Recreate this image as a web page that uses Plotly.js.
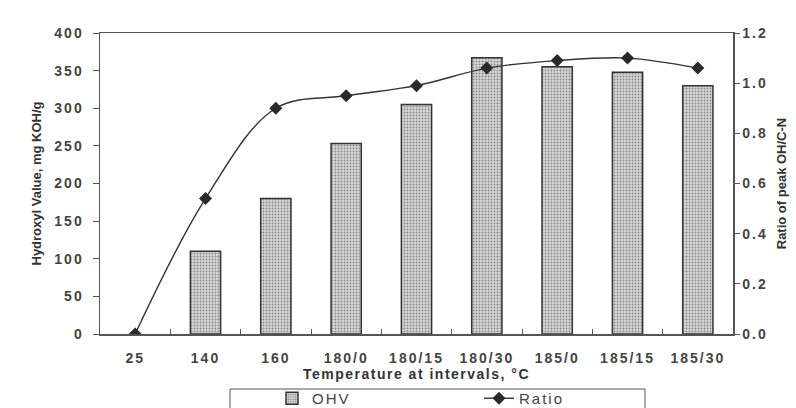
<!DOCTYPE html>
<html>
<head>
<meta charset="utf-8">
<script src="https://cdn.plot.ly/plotly-3.0.1.min.js"></script>
<style>
  html, body { margin: 0; padding: 0; background: #ffffff; }
  #chart { width: 796px; height: 408px; }
  .xtick text, .ytick text, .y2tick text { letter-spacing: 2px; }
  .g-xtitle text { letter-spacing: 1.5px; }
  .legendtext { letter-spacing: 2px; }
</style>
</head>
<body>
<div id="chart"></div>
<script>
const categories = ["25", "140", "160", "180/0", "180/15", "180/30", "185/0", "185/15", "185/30"];
const ohvValues = [null, 110, 180, 253, 305, 367, 355, 348, 330];
const ratioValues = [0, 0.54, 0.90, 0.95, 0.99, 1.06, 1.09, 1.10, 1.06];
const leftTicks = [0, 50, 100, 150, 200, 250, 300, 350, 400];
const rightTicks = [0, 0.2, 0.4, 0.6, 0.8, 1.0, 1.2];

const fontFam = "Arial, 'Liberation Sans', sans-serif";

const traces = [
  {
    type: "bar",
    name: "OHV",
    x: categories,
    y: ohvValues,
    width: 0.43,
    marker: {
      color: "#cfcfcf",
      line: { color: "#333333", width: 1.5 },
      pattern: { shape: ".", bgcolor: "#d6d6d6", fgcolor: "#8a8a8a", size: 3, solidity: 0.3 }
    },
    yaxis: "y"
  },
  {
    type: "scatter",
    mode: "lines+markers",
    name: "Ratio",
    x: categories,
    y: ratioValues,
    line: { color: "#333333", width: 1.4, shape: "spline", smoothing: 1 },
    marker: { symbol: "diamond", size: 10, color: "#2a2a2a" },
    yaxis: "y2"
  }
];

const layout = {
  width: 796,
  height: 408,
  margin: { l: 100, r: 63, t: 33, b: 74 },
  paper_bgcolor: "#ffffff",
  plot_bgcolor: "#ffffff",
  font: { family: fontFam, color: "#444444", size: 14 },
  showlegend: true,
  legend: {
    orientation: "h",
    xref: "container", yref: "container",
    x: 272 / 796, xanchor: "left",
    y: 1 - 382 / 408, yanchor: "top",
    borderwidth: 0,
    bgcolor: "rgba(0,0,0,0)",
    entrywidth: 162,
    font: { family: fontFam, size: 15, color: "#444444" },
    traceorder: "normal"
  },
  shapes: [
    {
      type: "rect", xref: "paper", yref: "paper",
      x0: (230 - 100) / 633, x1: (645 - 100) / 633,
      y0: -(389 - 334) / 301, y1: -(425 - 334) / 301,
      line: { color: "#555555", width: 1 },
      fillcolor: "rgba(0,0,0,0)"
    }
  ],
  xaxis: {
    type: "category",
    categoryorder: "array",
    categoryarray: categories,
    range: [-0.5, categories.length - 0.5],
    automargin: false,
    showline: true, linecolor: "#555555", linewidth: 1.5, mirror: true,
    ticks: "inside", tickson: "boundaries", ticklen: 5, tickcolor: "#555555",
    ticklabelstandoff: 11,
    tickfont: { family: fontFam, size: 14, color: "#444444", weight: "bold" },
    showgrid: false, zeroline: false,
    title: { text: "Temperature at intervals, °C", font: { family: fontFam, size: 14, color: "#333333", weight: "bold" }, standoff: 9 }
  },
  yaxis: {
    range: [0, 400],
    tickvals: leftTicks,
    automargin: false,
    showline: true, linecolor: "#555555", linewidth: 1.5,
    ticks: "outside", ticklen: 6, tickcolor: "#555555",
    ticklabelstandoff: 6,
    tickfont: { family: fontFam, size: 14, color: "#444444", weight: "bold" },
    showgrid: false, zeroline: false,
    title: { text: "Hydroxyl Value, mg KOH/g", font: { family: fontFam, size: 13, color: "#333333", weight: "bold" }, standoff: 10 }
  },
  yaxis2: {
    overlaying: "y",
    side: "right",
    range: [0, 1.2],
    tickvals: rightTicks,
    tickformat: ".1f",
    automargin: false,
    showline: true, linecolor: "#555555", linewidth: 1.5,
    ticks: "outside", ticklen: 5, tickcolor: "#555555",
    tickfont: { family: fontFam, size: 14, color: "#444444", weight: "bold" },
    showgrid: false, zeroline: false,
    title: { text: "Ratio of peak OH/C-N", font: { family: fontFam, size: 13, color: "#333333", weight: "bold" }, standoff: 10 }
  }
};

Plotly.newPlot("chart", traces, layout, { displayModeBar: false, staticPlot: true });
</script>
</body>
</html>
